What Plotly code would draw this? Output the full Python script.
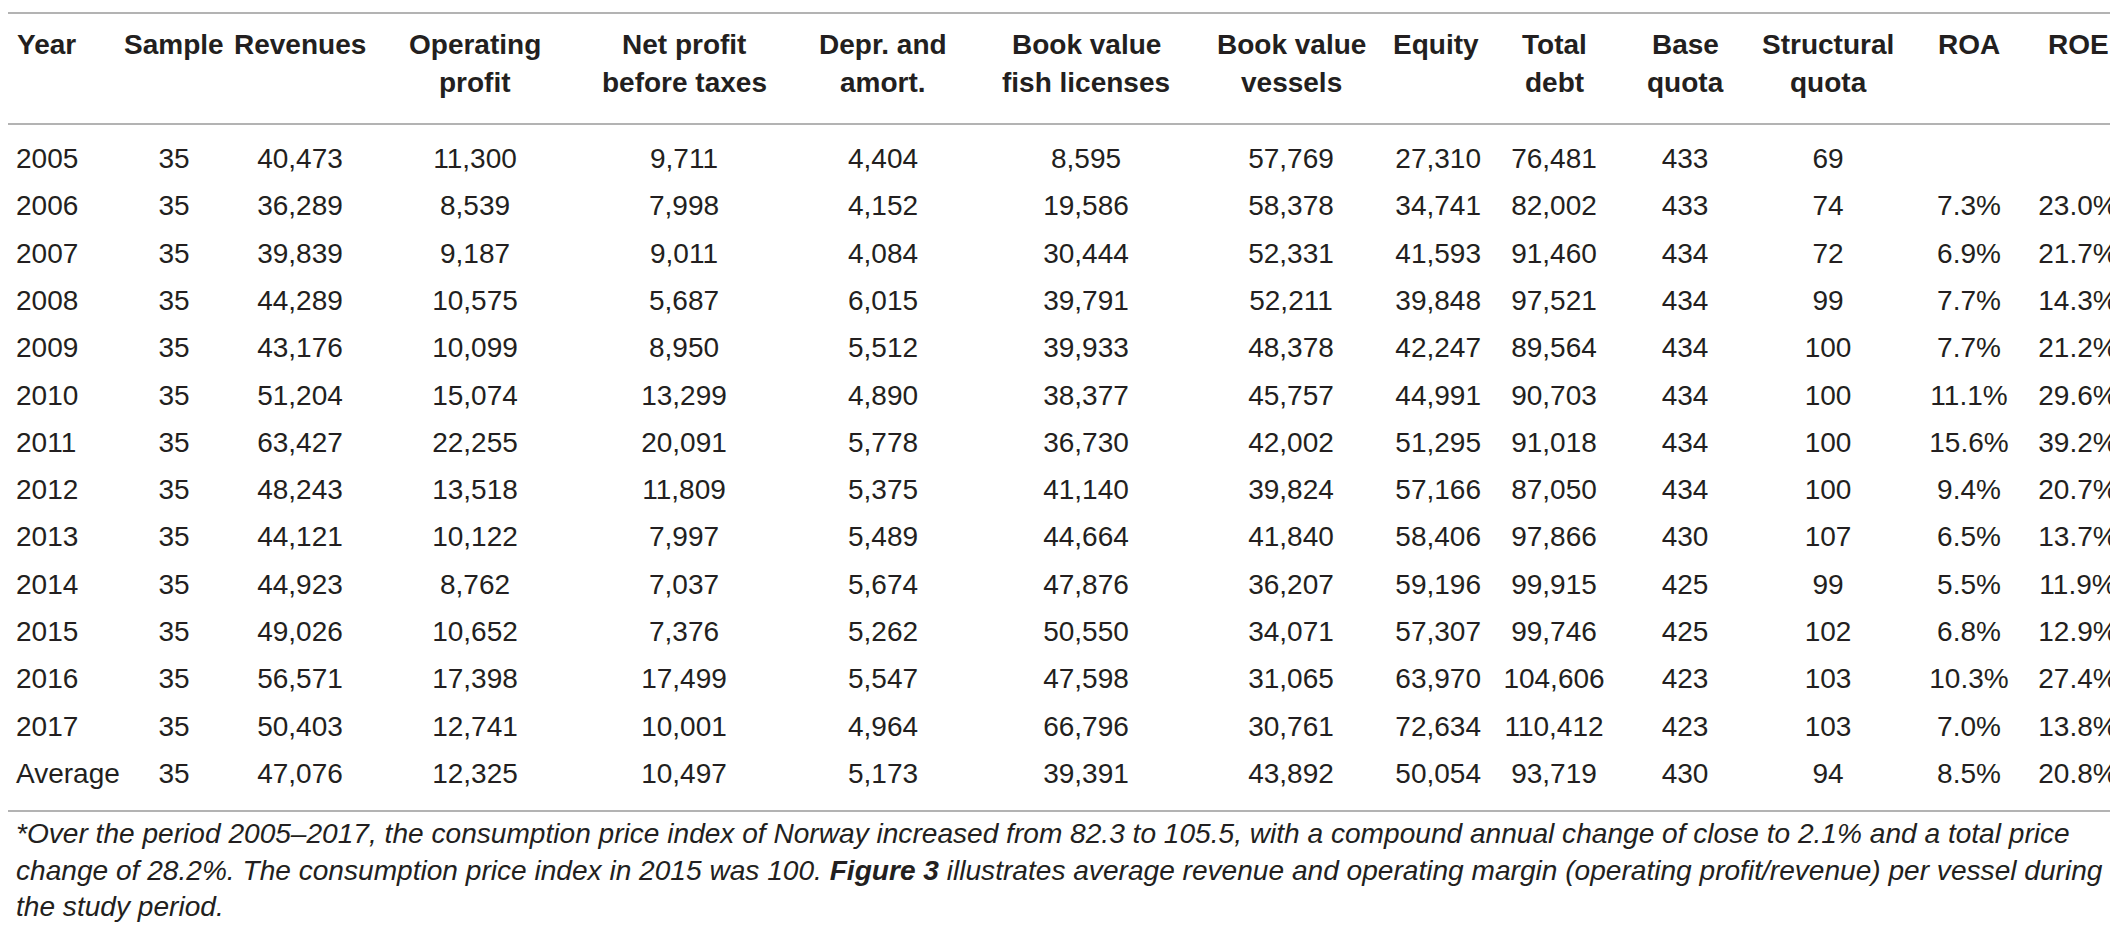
import plotly.graph_objects as go

# ---------------- data ----------------
headers = ["Year", "Sample", "Revenues", "Operating<br>profit", "Net profit<br>before taxes",
           "Depr. and<br>amort.", "Book value<br>fish licenses", "Book value<br>vessels",
           "Equity", "Total<br>debt", "Base<br>quota", "Structural<br>quota", "ROA", "ROE"]
years = ["2005", "2006", "2007", "2008", "2009", "2010", "2011", "2012", "2013",
         "2014", "2015", "2016", "2017", "Average"]
sample = [35, 35, 35, 35, 35, 35, 35, 35, 35, 35, 35, 35, 35, 35]
revenues = [40473, 36289, 39839, 44289, 43176, 51204, 63427, 48243, 44121, 44923, 49026, 56571, 50403, 47076]
operating_profit = [11300, 8539, 9187, 10575, 10099, 15074, 22255, 13518, 10122, 8762, 10652, 17398, 12741, 12325]
net_profit = [9711, 7998, 9011, 5687, 8950, 13299, 20091, 11809, 7997, 7037, 7376, 17499, 10001, 10497]
depr_amort = [4404, 4152, 4084, 6015, 5512, 4890, 5778, 5375, 5489, 5674, 5262, 5547, 4964, 5173]
bv_licenses = [8595, 19586, 30444, 39791, 39933, 38377, 36730, 41140, 44664, 47876, 50550, 47598, 66796, 39391]
bv_vessels = [57769, 58378, 52331, 52211, 48378, 45757, 42002, 39824, 41840, 36207, 34071, 31065, 30761, 43892]
equity = [27310, 34741, 41593, 39848, 42247, 44991, 51295, 57166, 58406, 59196, 57307, 63970, 72634, 50054]
total_debt = [76481, 82002, 91460, 97521, 89564, 90703, 91018, 87050, 97866, 99915, 99746, 104606, 110412, 93719]
base_quota = [433, 433, 434, 434, 434, 434, 434, 434, 430, 425, 425, 423, 423, 430]
structural_quota = [69, 74, 72, 99, 100, 100, 100, 100, 107, 99, 102, 103, 103, 94]
roa = [None, 7.3, 6.9, 7.7, 7.7, 11.1, 15.6, 9.4, 6.5, 5.5, 6.8, 10.3, 7.0, 8.5]
roe = [None, 23.0, 21.7, 14.3, 21.2, 29.6, 39.2, 20.7, 13.7, 11.9, 12.9, 27.4, 13.8, 20.8]

footnote = ("<i>*Over the period 2005–2017, the consumption price index of Norway increased from 82.3 to 105.5, "
            "with a compound annual change of close to 2.1% and a total price<br>"
            "change of 28.2%. The consumption price index in 2015 was 100. </i><b><i>Figure 3</i></b><i> illustrates "
            "average revenue and operating margin (operating profit/revenue) per vessel during<br>"
            "the study period.</i>")

# ---------------- formatting ----------------
W, H = 2118, 926
FONT = "Liberation Sans, Arial, sans-serif"
TEXT = "#231f20"
RULE = "#9a9a9a"
PAD = 8  # plotly table cell padding


def thousands(vals):
    return [f"{v:,}" for v in vals]


def pct(vals):
    return ["" if v is None else f"{v:.1f}%" for v in vals]


columns = [years, [str(v) for v in sample], thousands(revenues), thousands(operating_profit),
           thousands(net_profit), thousands(depr_amort), thousands(bv_licenses), thousands(bv_vessels),
           thousands(equity), thousands(total_debt), [str(v) for v in base_quota],
           [str(v) for v in structural_quota], pct(roa), pct(roe)]

col_px = [120, 92, 160, 190, 228, 170, 236, 174, 111, 130, 132, 154, 128, 90]
align = ["left"] + ["center"] * 7 + ["right"] + ["center"] * 5

table_top = 5
header_h = 126
row_h = 47.3
table_bottom = table_top + header_h + row_h * len(years) + 4

fig = go.Figure(go.Table(
    domain=dict(x=[0, sum(col_px) / W], y=[1 - table_bottom / H, 1 - table_top / H]),
    columnwidth=col_px,
    header=dict(values=["" for _ in headers], height=header_h,
                fill_color="white", line=dict(color="white", width=0)),
    cells=dict(values=columns, align=align, height=row_h,
               fill_color="white", line=dict(color="white", width=0),
               font=dict(family=FONT, size=28, color=TEXT)),
))

# header labels: each line placed separately so the two lines are centred independently
HEADER_TOP = 19
HEADER_LINE = 38
left = 0
for label, w, a in zip(headers, col_px, align):
    if a == "left":
        xpx, anchor = left + PAD - 1, "left"
    elif a == "right":
        xpx, anchor = left + w - PAD, "right"
    else:
        xpx, anchor = left + w / 2, "center"
    for k, part in enumerate(label.split("<br>")):
        fig.add_annotation(text=f"<b>{part}</b>", xref="paper", yref="paper",
                           x=xpx / W, y=1 - (HEADER_TOP + k * HEADER_LINE) / H,
                           xanchor=anchor, yanchor="top", align="center", showarrow=False,
                           font=dict(family=FONT, size=28, color=TEXT))
    left += w

for ypx in (5, 116, 803):
    fig.add_shape(type="line", xref="paper", yref="paper", x0=0, x1=2113 / W,
                  y0=1 - ypx / H, y1=1 - ypx / H, line=dict(color=RULE, width=1.5))

fig.add_annotation(text=footnote, xref="paper", yref="paper", x=6 / W, y=1 - 808 / H,
                   xanchor="left", yanchor="top", align="left", showarrow=False,
                   font=dict(family=FONT, size=28.1, color=TEXT))

fig.update_layout(width=W, height=H, margin=dict(l=0, r=0, t=0, b=0),
                  paper_bgcolor="white", plot_bgcolor="white")

fig.write_html("out.html")
